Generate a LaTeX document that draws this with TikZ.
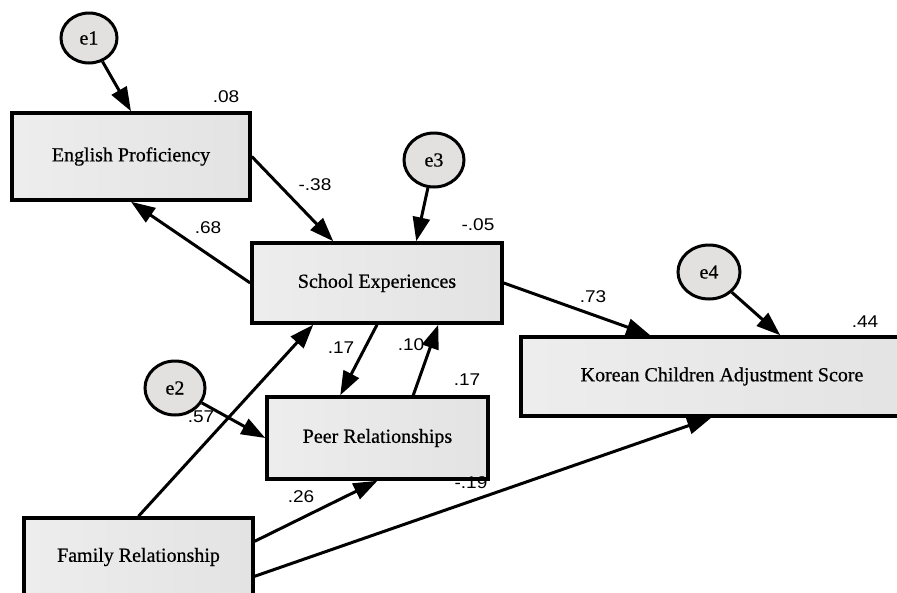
\documentclass[tikz,border=0pt]{standalone}
\usepackage{fontspec}
\setmainfont{Liberation Serif}[FakeBold=0.6]
\newfontfamily\labfont[FakeBold=0.6]{Liberation Serif}
\newfontfamily\numfont[FakeStretch=1.12]{Liberation Sans}
\usetikzlibrary{arrows.meta,calc,shapes.geometric}
\definecolor{errfill}{HTML}{E3E0E0}
\tikzset{
  varbox/.style={draw=black, line width=3.5pt, rectangle, left color=black!7, right color=black!11,
    inner sep=0pt, font=\labfont\fontsize{20}{24}\selectfont},
  errnode/.style={draw=black, line width=3pt, ellipse, fill=errfill, inner sep=0pt,
    font=\labfont\fontsize{20}{22}\selectfont},
  path/.style={line width=3pt, -{Triangle[length=24pt,width=17pt]}},
  coef/.style={font=\numfont\fontsize{17}{19}\selectfont, inner sep=0pt}
}
\begin{document}
\begin{tikzpicture}[x=1pt,y=-1pt]
\useasboundingbox (0,0) rectangle (897,592);
\clip (0,0) rectangle (897,592);
% boxes
\node[varbox, minimum width=238pt, minimum height=87pt] (EP) at (131,156.5) {English Proficiency};
\node[varbox, minimum width=250pt, minimum height=80pt] (SE) at (377,283) {School Experiences};
\node[varbox, minimum width=221pt, minimum height=82pt] (PR) at (377.5,438) {Peer Relationships};
\node[varbox, minimum width=402pt, minimum height=79pt] (KC) at (722,376.5) {Korean Children Adjustment Score};
\node[varbox, minimum width=229pt, minimum height=78pt] (FR) at (138.5,557) {Family Relationship};
% error terms
\node[errnode, minimum width=56pt, minimum height=50pt] (e1) at (89,38) {e1};
\node[errnode, minimum width=60pt, minimum height=54pt] (e3) at (434,160) {e3};
\node[errnode, minimum width=62pt, minimum height=54pt] (e4) at (709,272) {e4};
\node[errnode, minimum width=60pt, minimum height=54pt] (e2) at (175,388) {e2};
% anchor points
\coordinate (SEa) at ($(SE.north west)+(83,0)$);
\coordinate (SEb) at ($(SE.north west)+(166,0)$);
\coordinate (KCa) at ($(KC.north west)+(131,0)$);
\coordinate (KCb) at ($(KC.north west)+(261,0)$);
\coordinate (SEc) at ($(SE.south west)+(63,0)$);
\coordinate (PRa) at ($(PR.north west)+(75,0)$);
\coordinate (PRb) at ($(PR.north west)+(148,0)$);
\coordinate (SEd) at ($(SE.south west)+(188,0)$);
\coordinate (FRa) at ($(FR.north east)+(0,25)$);
\coordinate (FRb) at ($(FR.north east)+(0,60)$);
\coordinate (KCc) at ($(KC.south west)+(192,0)$);
% paths
\draw[path] (e1) -- (EP.north);
\draw[path] (EP.east) -- (SEa);
\draw[path] (SE.west) -- (EP.south);
\draw[path] (e3) -- (SEb);
\draw[path] (SE.east) -- (KCa);
\draw[path] (e4) -- (KCb);
\draw[path] (FR.north) -- (SEc);
\draw[path] (SE.south) -- (PRa);
\draw[path] (PRb) -- (SEd);
\draw[path] (e2) -- (PR.west);
\draw[path] (FRa) -- (PR.south);
\draw[path] (FRb) -- (KCc);
% coefficients
\node[coef] (c1) at (226,97) {.08};
\node[coef] (c2) at (315,185) {-.38};
\node[coef] (c3) at (208,228) {.68};
\node[coef] (c4) at (478,225) {-.05};
\node[coef] (c5) at (593,297) {.73};
\node[coef] (c6) at (865,322) {.44};
\node[coef] (c7) at (341,348) {.17};
\node[coef] (c8) at (411,345) {.10};
\node[coef] (c9) at (467,380) {.17};
\node[coef] (c10) at (201,417) {.57};
\node[coef] (c11) at (301,497) {.26};
\node[coef] (c12) at (471,483) {-.19};
\end{tikzpicture}
\end{document}
